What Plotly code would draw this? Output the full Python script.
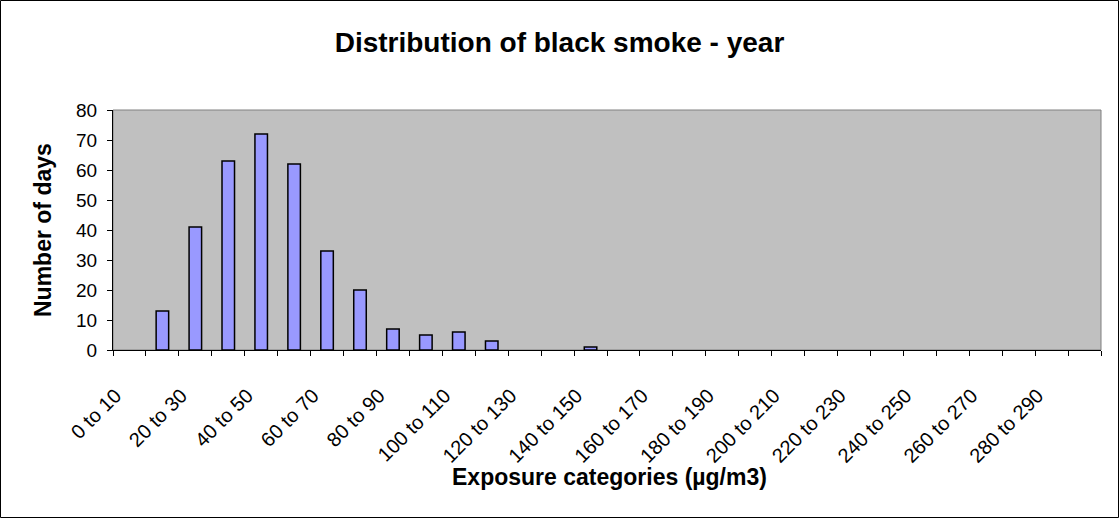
import plotly.graph_objects as go

# Exposure categories (µg/m3) and number of days in each
categories = [f"{lo} to {lo + 10}" for lo in range(0, 300, 10)]
days = [0, 13, 41, 63, 72, 62, 33, 20, 7, 5, 6, 3, 0, 0, 1,
        0, 0, 0, 0, 0, 0, 0, 0, 0, 0, 0, 0, 0, 0, 0]

W, H = 1119, 518
ML, MR, MT, MB = 113, 18, 110, 168
PW, PH = W - ML - MR, H - MT - MB

font = "Liberation Sans, Arial, sans-serif"

# empty categories get no outline so nothing is drawn for them
outline = [1.5 if v > 0 else 0 for v in days]

fig = go.Figure(go.Bar(
    x=categories,
    y=days,
    marker=dict(color="#9999FF", line=dict(color="#000000", width=outline)),
    hoverinfo="x+y",
))

fig.update_layout(
    width=W, height=H,
    margin=dict(l=ML, r=MR, t=MT, b=MB),
    paper_bgcolor="white",
    plot_bgcolor="#C0C0C0",
    bargap=0.62,
    showlegend=False,
    font=dict(family=font, color="black", size=18),
    title=dict(text="<b>Distribution of black smoke - year</b>",
               x=0.5, xref="container", xanchor="center",
               y=1 - 42 / H, yanchor="middle",
               font=dict(size=28, family=font)),
)

fig.update_xaxes(
    type="category",
    categoryorder="array", categoryarray=categories,
    tickson="boundaries",
    ticklabelstep=2,
    ticks="outside", ticklen=5, tickcolor="black",
    tickangle=-45,
    ticklabelstandoff=25,
    ticklabelshift=-14,
    showline=True, linecolor="black", linewidth=1,
    showgrid=False,
    tickfont=dict(size=20),
)
fig.update_yaxes(
    range=[0, 80], dtick=10,
    ticks="outside", ticklen=5, tickcolor="black",
    ticklabelstandoff=6,
    showline=True, linecolor="black", linewidth=1,
    showgrid=False, zeroline=False,
    tickfont=dict(size=19),
)

# plot area frame and outer chart border
fig.add_shape(type="rect", xref="paper", yref="paper", x0=0, x1=1, y0=0, y1=1,
              line=dict(color="#808080", width=1), layer="below")
fig.add_shape(type="rect", xref="paper", yref="paper",
              x0=(0.5 - ML) / PW, x1=(W - 0.5 - ML) / PW,
              y0=-(MB - 0.5) / PH, y1=1 + (MT - 0.5) / PH,
              line=dict(color="black", width=1))

fig.add_annotation(text="<b>Number of days</b>", xref="paper", yref="paper",
                   x=(43 - ML) / PW, y=(H - MB - 230) / PH, textangle=-90, showarrow=False,
                   xanchor="center", yanchor="middle",
                   font=dict(size=23, family=font))
fig.add_annotation(text="<b>Exposure categories (µg/m3)</b>", xref="paper", yref="paper",
                   x=(609 - ML) / PW, y=-(477 - (H - MB)) / PH, showarrow=False,
                   xanchor="center", yanchor="middle",
                   font=dict(size=23, family=font))

fig.write_html("out.html")
